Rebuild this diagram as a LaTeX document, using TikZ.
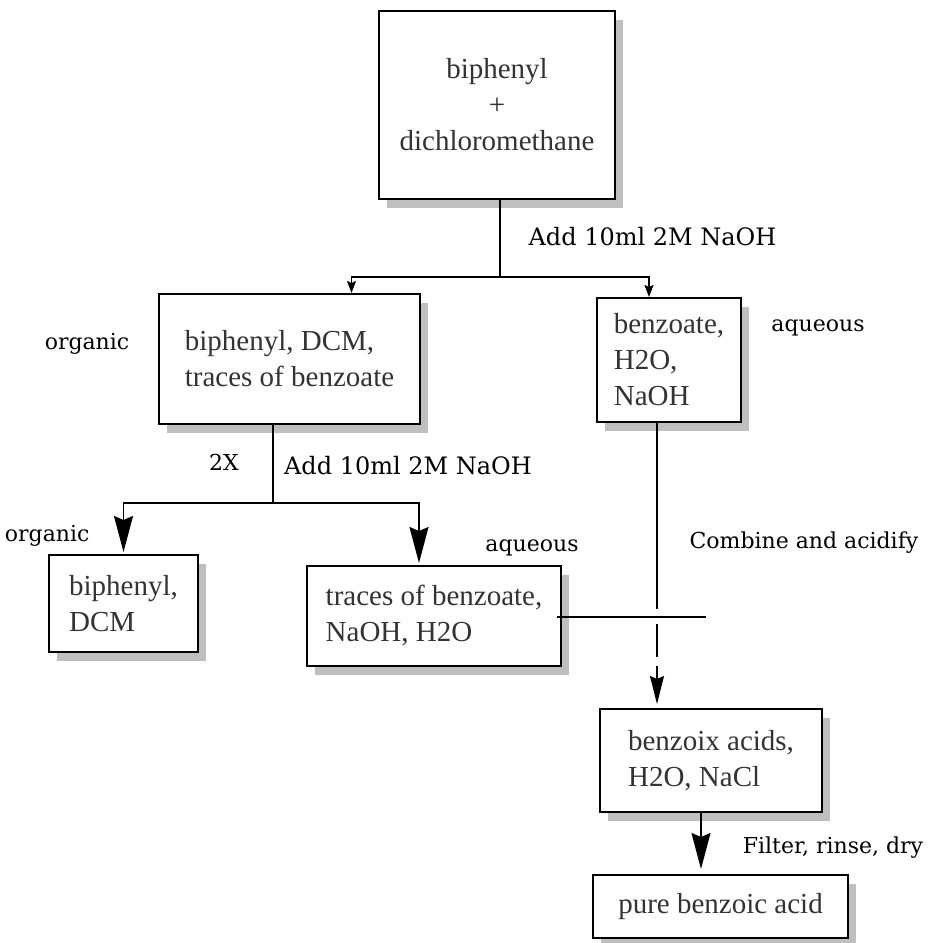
\documentclass[tikz,border=0pt]{standalone}
\usepackage{fontspec}
\setmainfont{Liberation Serif}
\newfontfamily\notefont{DejaVu Serif}
\usetikzlibrary{arrows.meta,shadows}
\begin{document}
\begin{tikzpicture}[x=1pt,y=-1pt,
    box/.style={draw,line width=2pt,fill=white,text=black!80,inner sep=0pt,align=left,
      font=\fontsize{29}{36}\selectfont,
      drop shadow={shadow xshift=8pt,shadow yshift=-9pt,fill=black!25,opacity=1}},
    link/.style={line width=1.6pt},
    note/.style={font=\notefont\fontsize{22}{26}\selectfont},
    arrS/.style={-{Stealth[length=12pt,width=9pt,inset=2pt]}},
    arrM/.style={-{Stealth[length=28pt,width=14pt,inset=3pt]}},
    arrL/.style={-{Stealth[length=36pt,width=19pt,inset=4pt]}}]
  \useasboundingbox (0,0) rectangle (928,943);
  \node[box,align=center,minimum width=236pt,minimum height=188pt] (mix) at (497,105) {biphenyl\\+\\dichloromethane};
  \node[box,minimum width=261pt,minimum height=130pt] (org1) at (289.5,359) {biphenyl, DCM,\\traces of benzoate};
  \node[box,minimum width=144pt,minimum height=124pt] (aq1) at (669,360) {benzoate,\\H2O,\\NaOH};
  \node[box,minimum width=149pt,minimum height=97pt] (org2) at (123.5,603.5) {biphenyl,\\DCM};
  \node[box,minimum width=254pt,minimum height=100pt] (aq2) at (434,616) {traces of benzoate,\\NaOH, H2O};
  \node[box,minimum width=222pt,minimum height=103pt] (acid) at (711,760.5) {benzoix acids,\\H2O, NaCl};
  \node[box,minimum width=255pt,minimum height=63pt] (pure) at (720.5,906.5) {pure benzoic acid};

  \node[note,font=\notefont\fontsize{24}{28}\selectfont] (add1) at (652.5,237) {Add 10ml 2M NaOH};
  \node[note] (lorg1) at (87,344) {organic};
  \node[note] (laq1) at (818,328) {aqueous};
  \node[note] (twice) at (224,462) {2X};
  \node[note,font=\notefont\fontsize{24}{28}\selectfont] (add2) at (408,466) {Add 10ml 2M NaOH};
  \node[note,anchor=east] (lorg2) at (93,536) {organic};
  \node[note] (laq2) at (532,548) {aqueous};
  \node[note] (comb) at (804,543) {Combine and acidify};
  \node[note] (filt) at (833,848) {Filter, rinse, dry};

  \draw[link] ([xshift=3pt]mix.south) -- ++(0,77) coordinate (j1);
  \draw[link,arrS] (j1) -| ([xshift=62pt]org1.north);
  \draw[link,arrS] (j1) -| ([xshift=-20pt]aq1.north);
  \draw[link] ([xshift=-16.5pt]org1.south) -- ++(0,78) coordinate (j2);
  \draw[link,arrL,shorten >=2pt] (j2) -| (org2.north);
  \draw[link,arrL,shorten >=2pt] (j2) -| ([xshift=-15pt]aq2.north);

  \coordinate (c0) at (557,617);
  \coordinate (c1) at (706,617);
  \coordinate (d0) at (657,609);
  \coordinate (d1) at (657,624);
  \coordinate (d2) at (657,657);
  \coordinate (d3) at (657,666);
  \draw[link] ([xshift=-12pt]aq1.south) -- (d0);
  \draw[link] (c0) -- (c1);
  \draw[link] (d1) -- (d2);
  \draw[link,arrM,shorten >=4pt] (d3) -- (d3 |- acid.north);
  \draw[link,arrL,shorten >=5pt] ([xshift=-10pt]acid.south) -- ([xshift=-10pt]acid.south |- pure.north);
\end{tikzpicture}
\end{document}
